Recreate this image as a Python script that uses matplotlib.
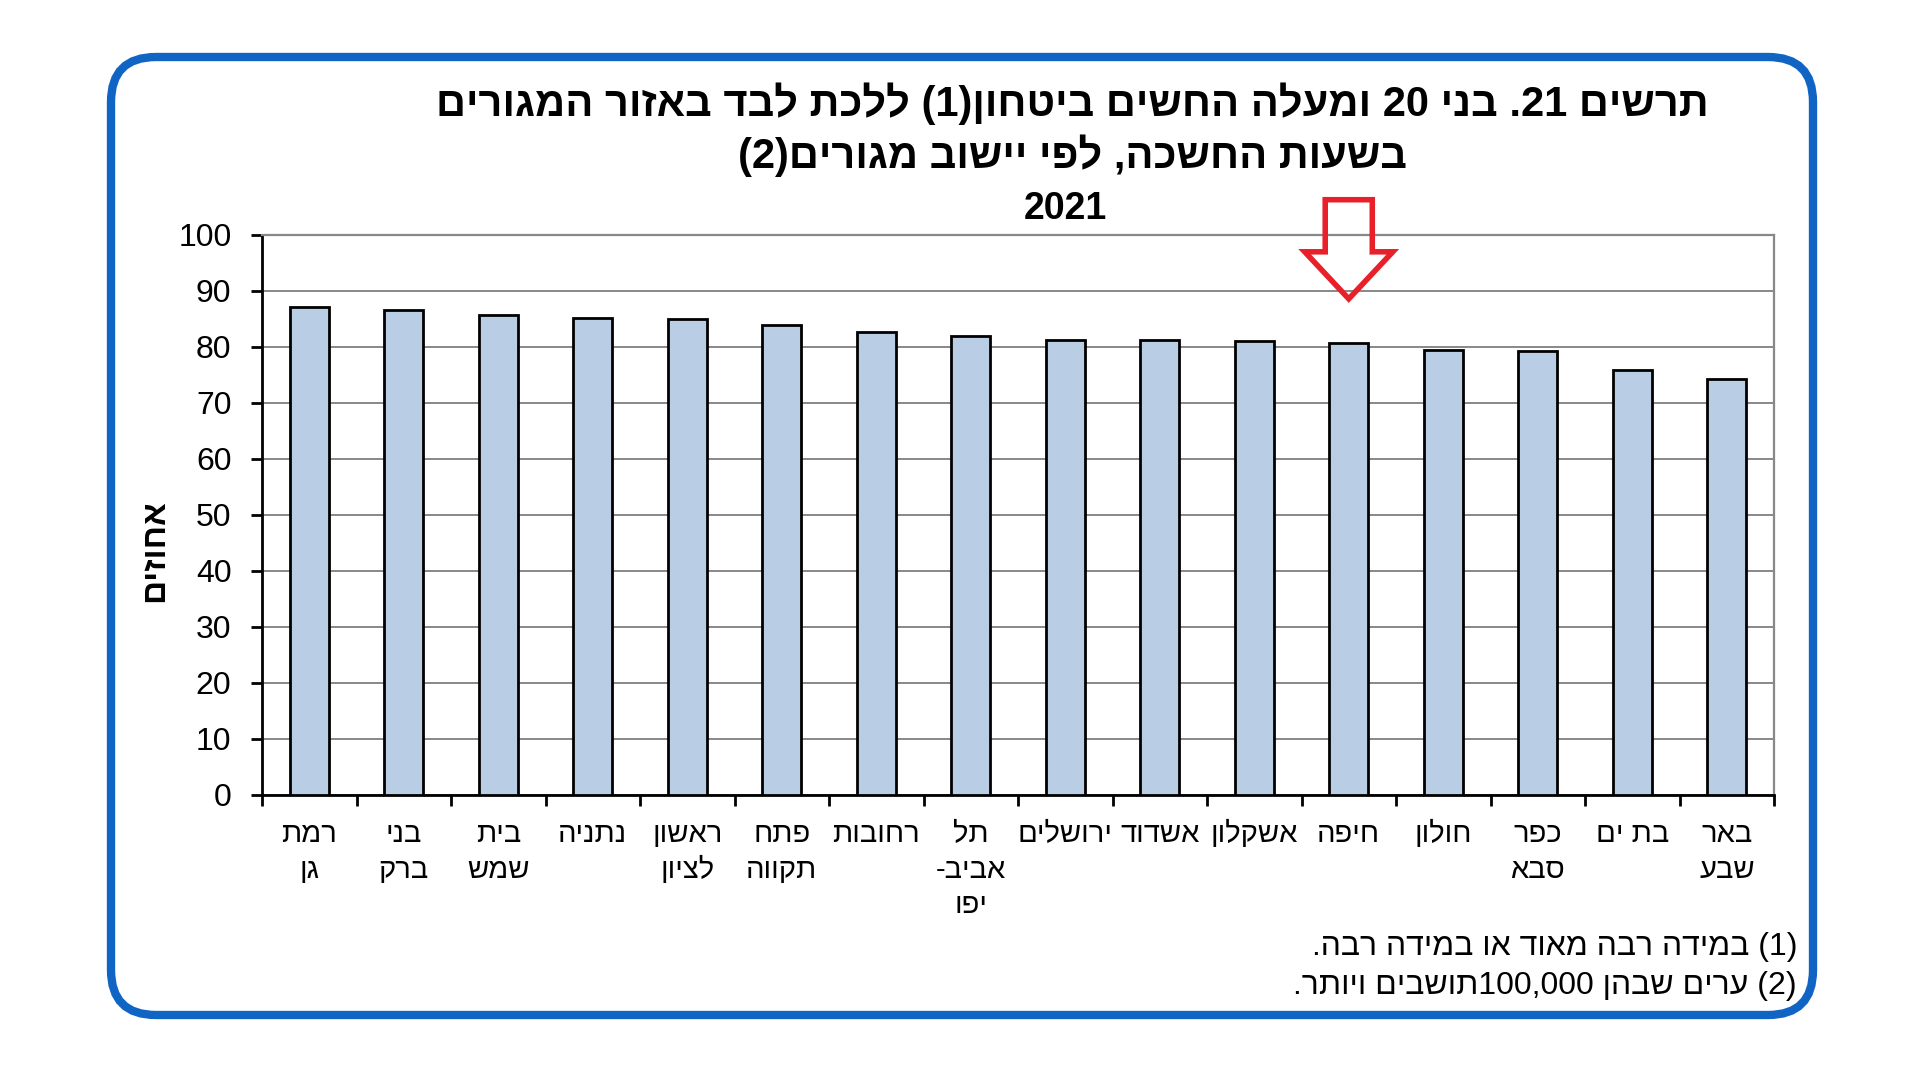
import re
import matplotlib
matplotlib.use('Agg')
import matplotlib.pyplot as plt
from matplotlib.patches import FancyBboxPatch, Polygon

plt.rcParams['font.family'] = ['Liberation Sans', 'DejaVu Sans']

# data
cities = ['רמת\nגן', 'בני\nברק', 'בית\nשמש', 'נתניה', 'ראשון\nלציון', 'פתח\nתקווה',
          'רחובות', 'תל\nאביב-\nיפו', 'ירושלים', 'אשדוד', 'אשקלון', 'חיפה',
          'חולון', 'כפר\nסבא', 'בת ים', 'באר\nשבע']
values = [87.2, 86.6, 85.7, 85.2, 85.0, 84.0, 82.6, 81.9, 81.2, 81.2, 81.0, 80.8,
          79.5, 79.3, 75.9, 74.3]
yticks = list(range(0, 101, 10))

title_lines = ['תרשים 21. בני 20 ומעלה החשים ביטחון(1) ללכת לבד באזור המגורים',
               'בשעות החשכה, לפי יישוב מגורים(2)']
year = '2021'
ylabel = 'אחוזים'
notes = ['(1) במידה רבה מאוד או במידה רבה.',
         '(2) ערים שבהן 100,000תושבים ויותר.']
highlight = 'חיפה'


def rtl(s):
    # matplotlib has no bidi support: put Hebrew into visual order, keep numbers as they are
    mirror = {'(': ')', ')': '('}
    out = []
    for line in s.split('\n'):
        tokens = re.findall(r'\d[\d,.]*\d|\d|.', line)[::-1]
        out.append(''.join(mirror.get(t, t) for t in tokens))
    return '\n'.join(out)


W, H = 1920, 1068
fig = plt.figure(figsize=(W / 100, H / 100), dpi=100)

# frame in pixel units
bg = fig.add_axes([0, 0, 1, 1], zorder=0)
bg.set_xlim(0, W)
bg.set_ylim(H, 0)
bg.axis('off')
bg.add_patch(FancyBboxPatch((111, 57), 1702, 958, boxstyle='round,pad=0,rounding_size=45',
                            fill=False, edgecolor='#1065C4', linewidth=6))

ax = fig.add_axes([262 / W, (H - 795) / H, 1512 / W, 560 / H], zorder=1)
ax.patch.set_alpha(0)
x = list(range(len(cities)))
ax.bar(x, values, width=0.41, color='#B9CDE5', edgecolor='black', linewidth=2, zorder=3)

ax.set_xlim(-0.5, len(cities) - 0.5)
ax.set_ylim(0, 100)
ax.set_yticks(yticks)
ax.yaxis.grid(True, color='#888888', linewidth=1.4, zorder=0)
ax.set_axisbelow(True)

ax.set_xticks(x)
ax.set_xticklabels([rtl(c) for c in cities], fontsize=21, linespacing=1.35, va='top')
ax.set_xticks([i - 0.5 for i in range(len(cities) + 1)], minor=True)
ax.tick_params(axis='x', which='major', length=0, pad=18)
ax.tick_params(axis='x', which='minor', length=8, width=2, direction='out')
ax.tick_params(axis='y', length=8, width=2, direction='out', labelsize=23, pad=14)

for side in ['left', 'bottom']:
    ax.spines[side].set_linewidth(2)
    ax.spines[side].set_color('black')
for side in ['top', 'right']:
    ax.spines[side].set_linewidth(1.6)
    ax.spines[side].set_color('#888888')

fig.text(155 / W, 1 - 551 / H, rtl(ylabel), rotation=90, ha='center', va='center',
         fontsize=24, fontweight='bold')

# arrow above the highlighted city
hx = cities.index(highlight)
arrow = [(hx - 0.249, 106.3), (hx + 0.249, 106.3), (hx + 0.249, 97.0), (hx + 0.466, 97.0),
         (hx, 88.6), (hx - 0.466, 97.0), (hx - 0.249, 97.0)]
ax.add_patch(Polygon(arrow, closed=True, fill=False, edgecolor='#E8202A', linewidth=4,
                     joinstyle='miter', clip_on=False, zorder=5))

# titles
fig.text(1072 / W, 1 - 104 / H, rtl(title_lines[0]), ha='center', va='center',
         fontsize=30, fontweight='bold')
fig.text(1072 / W, 1 - 156 / H, rtl(title_lines[1]), ha='center', va='center',
         fontsize=30, fontweight='bold')
fig.text(1065 / W, 1 - 209 / H, year, ha='center', va='center', fontsize=27, fontweight='bold')

# footnotes
fig.text(1797 / W, 1 - 947 / H, rtl(notes[0]), ha='right', va='center', fontsize=23)
fig.text(1797 / W, 1 - 986 / H, rtl(notes[1]), ha='right', va='center', fontsize=23)

plt.savefig('out.png', dpi=100)
